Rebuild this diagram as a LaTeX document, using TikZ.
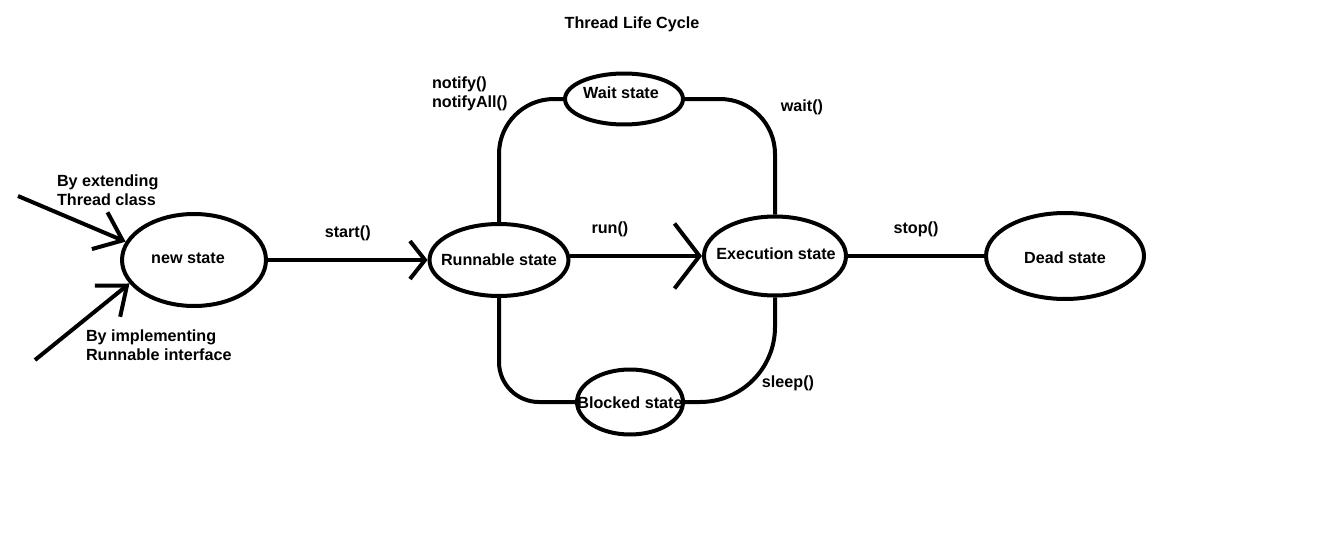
\documentclass[tikz,border=0pt]{standalone}
\usepackage{fontspec}
\setmainfont{Liberation Sans}
\usetikzlibrary{arrows.meta, shapes.geometric}
\tikzset{>={Straight Barb[length=0.5cm, width=0.8cm]}}
\tikzset{state/.style={draw, ellipse, line width=0.08cm, inner sep=0pt},
  txt/.style={font=\fontsize{9.2}{10.8}\selectfont\bfseries, inner sep=0pt, align=left}}

\begin{document}
\begin{tikzpicture}[x=0.02cm, y=-0.02cm, line width=0.08cm]
\useasboundingbox (0,0) rectangle (1335,534);
\node[txt] (title) at (632,24) {Thread Life Cycle};
% states
\node[state, minimum width=2.88cm, minimum height=1.84cm] (newst) at (194,260) {};
\node[state, minimum width=2.78cm, minimum height=1.44cm] (runst) at (499,260) {};
\node[state, minimum width=2.36cm, minimum height=1.02cm] (waitst) at (624,99) {};
\node[state, minimum width=2.84cm, minimum height=1.58cm] (execst) at (775,256) {};
\node[state, minimum width=2.12cm, minimum height=1.30cm] (blockst) at (630,402) {};
\node[state, minimum width=3.16cm, minimum height=1.72cm] (deadst) at (1065,256) {};
\node[txt] (newtxt) at (188,258) {new state};
\node[txt] (runtxt) at (499,260) {Runnable state};
\node[txt] (waittxt) at (621,93) {Wait state};
\node[txt] (exectxt) at (776,254) {Execution state};
\node[txt] (blocktxt) at (630,403) {Blocked state};
\node[txt] (deadtxt) at (1065,258) {Dead state};
% ways in
\coordinate (ext) at (18,196);
\coordinate (impl) at (35,360);
\draw[->] (ext) -- (newst.165);
\draw[->] (impl) -- (newst.200);
\node[txt, anchor=west] (exttxt) at (55,190) {By extending\\Thread class};
\node[txt, anchor=west] (impltxt) at (84,345) {By implementing\\Runnable interface};
% main line
\draw[-{Straight Barb[length=0.3cm, width=0.76cm]}] (newst.east) -- (runst.west)
  node[txt, midway, above=10pt] (starttxt) {start()};
\draw[-{Straight Barb[length=0.5cm, width=1.3cm]}] (runst.east |- execst.west) -- (execst.west)
  node[txt, pos=0.3, above=10pt] (runtxt2) {run()};
\draw (execst.east) -- (deadst.west) node[txt, midway, above=10pt] (stoptxt) {stop()};
% loops
\draw[rounded corners=1.1cm] (runst.north) |- (waitst.west);
\draw[rounded corners=1.1cm] (waitst.east) -| (execst.north);
\draw[rounded corners=0.8cm] (runst.south) |- (blockst.west);
\draw[rounded corners=1.5cm] (blockst.east) -| (execst.south);
\node[txt, anchor=west] (notifytxt) at (430,94) {notify()\\notifyAll()};
\node[txt] (waitcall) at (802,107) {wait()};
\node[txt] (sleeptxt) at (788,383) {sleep()};
\end{tikzpicture}
\end{document}
